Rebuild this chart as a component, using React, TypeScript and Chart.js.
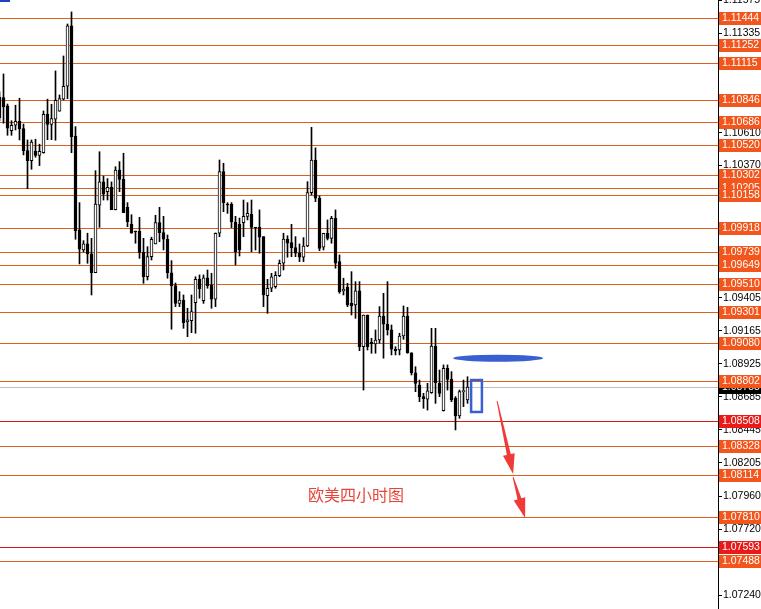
import React, { useEffect, useRef } from 'react';
import { Chart, registerables } from 'chart.js';

Chart.register(...registerables);

// EURUSD H4 candles (index -1 is the partially visible first bar)
const firstIndex = -1;
const opens = [
  1.10868, 1.10866, 1.10805, 1.10625, 1.10664, 1.10693, 1.10640, 1.10479, 1.10406, 1.10474,
  1.10445, 1.10464, 1.10744, 1.10671, 1.10708, 1.10766, 1.10854, 1.10948, 1.11388, 1.10586,
  1.09901, 1.09755, 1.09799, 1.09726, 1.09589, 1.10081, 1.10251, 1.10180, 1.10212, 1.10049,
  1.10338, 1.10270, 1.10066, 1.09944, 1.09893, 1.09891, 1.09738, 1.09560, 1.09706, 1.09799,
  1.09954, 1.09881, 1.09833, 1.09589, 1.09495, 1.09366, 1.09390, 1.09230, 1.09240, 1.09371,
  1.09541, 1.09385, 1.09551, 1.09500, 1.09396, 1.09877, 1.10326, 1.10088, 1.10088, 1.09959,
  1.09944, 1.09954, 1.10000, 1.10015, 1.09920, 1.09920, 1.09852, 1.09422, 1.09476, 1.09488,
  1.09568, 1.09658, 1.09835, 1.09808, 1.09772, 1.09731, 1.09702, 1.09784, 1.10173, 1.10411,
  1.10132, 1.09775, 1.09877, 1.09840, 1.09986, 1.09670, 1.09456, 1.09483, 1.09366, 1.09354,
  1.09458, 1.09050, 1.09281, 1.09082, 1.09070, 1.09099, 1.09274, 1.09215, 1.09172, 1.09031,
  1.09026, 1.09128, 1.09274, 1.09006, 1.08860, 1.08771, 1.08686, 1.08667, 1.08715, 1.09055,
  1.08783, 1.08583, 1.08893, 1.08812, 1.08674, 1.08545, 1.08722, 1.08662,
];
const highs = [
  1.10907, 1.11038, 1.10819, 1.10697, 1.10810, 1.10861, 1.10673, 1.10557, 1.10557, 1.10562,
  1.10526, 1.10768, 1.10854, 1.10817, 1.11060, 1.10885, 1.11169, 1.11402, 1.11490, 1.10654,
  1.10100, 1.09823, 1.09877, 1.09840, 1.10333, 1.10471, 1.10294, 1.10275, 1.10251, 1.10362,
  1.10399, 1.10460, 1.10100, 1.10012, 1.09893, 1.09993, 1.09840, 1.09779, 1.09848, 1.10008,
  1.10066, 1.10000, 1.09864, 1.09677, 1.09514, 1.09451, 1.09427, 1.09330, 1.09427, 1.09560,
  1.09573, 1.09573, 1.09609, 1.09585, 1.09879, 1.10411, 1.10387, 1.10100, 1.10100, 1.10000,
  1.09988, 1.10119, 1.10100, 1.10119, 1.09920, 1.10047, 1.09852, 1.09541, 1.09585, 1.09597,
  1.09682, 1.09877, 1.09859, 1.09942, 1.09852, 1.09799, 1.09845, 1.10253, 1.10649, 1.10499,
  1.10149, 1.09877, 1.09974, 1.10000, 1.10047, 1.09719, 1.09549, 1.09512, 1.09597, 1.09524,
  1.09524, 1.09281, 1.09281, 1.09111, 1.09172, 1.09342, 1.09439, 1.09524, 1.09208, 1.09050,
  1.09148, 1.09347, 1.09337, 1.09006, 1.08904, 1.08807, 1.08710, 1.08783, 1.09184, 1.09184,
  1.08880, 1.08917, 1.08917, 1.08868, 1.08686, 1.08734, 1.08807, 1.08831,
];
const lows = [
  1.10695, 1.10679, 1.10591, 1.10591, 1.10630, 1.10557, 1.10448, 1.10202, 1.10343, 1.10431,
  1.10370, 1.10460, 1.10559, 1.10559, 1.10555, 1.10766, 1.10848, 1.10858, 1.10464, 1.09833,
  1.09653, 1.09740, 1.09658, 1.09427, 1.09589, 1.09920, 1.10119, 1.10119, 1.10049, 1.10047,
  1.10180, 1.10027, 1.09925, 1.09877, 1.09804, 1.09694, 1.09512, 1.09536, 1.09682, 1.09799,
  1.09815, 1.09755, 1.09549, 1.09177, 1.09342, 1.09342, 1.09184, 1.09123, 1.09152, 1.09148,
  1.09403, 1.09366, 1.09476, 1.09330, 1.09342, 1.09852, 1.10034, 1.10022, 1.09918, 1.09646,
  1.09711, 1.09852, 1.09974, 1.09742, 1.09755, 1.09731, 1.09342, 1.09293, 1.09451, 1.09476,
  1.09560, 1.09609, 1.09702, 1.09706, 1.09706, 1.09670, 1.09670, 1.09779, 1.10156, 1.10107,
  1.09750, 1.09755, 1.09828, 1.09804, 1.09622, 1.09439, 1.09427, 1.09342, 1.09281, 1.09257,
  1.09021, 1.08734, 1.09026, 1.09002, 1.09002, 1.09075, 1.08966, 1.09135, 1.08990, 1.08990,
  1.08990, 1.09104, 1.09002, 1.08844, 1.08722, 1.08649, 1.08601, 1.08588, 1.08710, 1.08637,
  1.08686, 1.08581, 1.08734, 1.08649, 1.08443, 1.08528, 1.08613, 1.08637,
];
const closes = [
  1.10717, 1.10800, 1.10642, 1.10664, 1.10693, 1.10640, 1.10479, 1.10406, 1.10542, 1.10445,
  1.10474, 1.10744, 1.10671, 1.10712, 1.10846, 1.10858, 1.10948, 1.11388, 1.10581, 1.09896,
  1.09760, 1.09799, 1.09726, 1.09589, 1.10090, 1.10251, 1.10161, 1.10212, 1.10049, 1.10338,
  1.10270, 1.10027, 1.09961, 1.09877, 1.09886, 1.09738, 1.09560, 1.09706, 1.09833, 1.09954,
  1.09881, 1.09833, 1.09589, 1.09495, 1.09366, 1.09390, 1.09225, 1.09245, 1.09305, 1.09541,
  1.09473, 1.09551, 1.09495, 1.09396, 1.09877, 1.10326, 1.10100, 1.10083, 1.09959, 1.09740,
  1.09755, 1.10000, 1.10022, 1.09920, 1.09915, 1.09848, 1.09427, 1.09476, 1.09560, 1.09570,
  1.09658, 1.09835, 1.09804, 1.09772, 1.09731, 1.09702, 1.09784, 1.10173, 1.10411, 1.10132,
  1.09767, 1.09877, 1.09840, 1.09986, 1.09658, 1.09451, 1.09468, 1.09354, 1.09347, 1.09458,
  1.09050, 1.09281, 1.09050, 1.09070, 1.09099, 1.09274, 1.09215, 1.09172, 1.09031, 1.09021,
  1.09128, 1.09274, 1.09006, 1.08860, 1.08783, 1.08686, 1.08671, 1.08729, 1.09055, 1.08787,
  1.08710, 1.08893, 1.08812, 1.08662, 1.08545, 1.08722, 1.08729, 1.08755,
];

// horizontal levels
const levelPrices = [
  1.11444, 1.11252, 1.11115, 1.10846, 1.10686, 1.10520, 1.10302, 1.10205, 1.10158, 1.09918,
  1.09739, 1.09649, 1.09510, 1.09301, 1.09080, 1.08802, 1.08508, 1.08328, 1.08114, 1.07810,
  1.07593, 1.07488,
];
const redLevels = [1.08508, 1.07593];

// price axis ticks
const axisTicks = [
  1.11575, 1.11335, 1.11095, 1.10850, 1.10610, 1.10370, 1.10130, 1.09890, 1.09645, 1.09405,
  1.09165, 1.08925, 1.08685, 1.08445, 1.08205, 1.07960, 1.07720, 1.07480, 1.07240,
];
const priceMin = 1.07138;
const priceMax = 1.11577;
const indexMin = -0.875;
const indexMax = 178.625;

// annotations (bar index, price)
const blueBar = { from: 112.4, to: 134.9, price: 1.08966 };
const blueBox = { from: 116.9, to: 119.6, top: 1.08807, bottom: 1.08574 };
const arrows = [
  { x0: 123.4, p0: 1.08654, x1: 127.4, p1: 1.08122 },
  { x0: 127.4, p0: 1.08100, x1: 130.4, p1: 1.07801 },
];
const chartTitle = '欧美四小时图';
const titlePos = { x: 88.1, price: 1.07969 };

const LINE_ORANGE = '#dc5f1e';
const BOX_ORANGE = '#f2561d';
const LINE_RED = '#d41818';
const BOX_RED = '#e81a1a';

export default function App() {
  const ref = useRef<HTMLCanvasElement>(null);

  useEffect(() => {
    document.body.style.margin = '0';
    const canvas = ref.current;
    if (!canvas) return;

    const idx = opens.map((_, i) => i + firstIndex);
    const wickData = idx.map((x, i) => ({ x, y: [lows[i], highs[i]] }));
    const bodyData = idx.map((x, i) => ({
      x,
      y: [Math.min(opens[i], closes[i]), Math.max(opens[i], closes[i])],
    }));
    const bodyFill = idx.map((_, i) => (closes[i] >= opens[i] ? '#ffffff' : '#000000'));
    const lastClose = closes[closes.length - 1];

    const overlay = {
      id: 'overlay',
      beforeDatasetsDraw(chart: any) {
        const { ctx, chartArea } = chart;
        const y = chart.scales.y;
        ctx.save();
        ctx.lineWidth = 1;
        // bid line
        const by = Math.round(y.getPixelForValue(lastClose)) + 0.5;
        ctx.strokeStyle = '#c0c0c0';
        ctx.beginPath();
        ctx.moveTo(chartArea.left, by);
        ctx.lineTo(chartArea.right, by);
        ctx.stroke();
        levelPrices.forEach((p) => {
          const py = Math.round(y.getPixelForValue(p)) + 0.5;
          ctx.strokeStyle = redLevels.includes(p) ? LINE_RED : LINE_ORANGE;
          ctx.beginPath();
          ctx.moveTo(chartArea.left, py);
          ctx.lineTo(chartArea.right, py);
          ctx.stroke();
        });
        ctx.restore();
      },
      afterDatasetsDraw(chart: any) {
        const { ctx, chartArea } = chart;
        const x = chart.scales.x;
        const y = chart.scales.y;
        ctx.save();
        // small blue mark top-left
        ctx.fillStyle = '#2040c8';
        ctx.fillRect(chartArea.left, chartArea.top, 10, 2);
        // blue ellipse stroke
        ctx.fillStyle = '#3a5fd0';
        const ex0 = x.getPixelForValue(blueBar.from);
        const ex1 = x.getPixelForValue(blueBar.to);
        const ecy = y.getPixelForValue(blueBar.price);
        ctx.beginPath();
        ctx.ellipse((ex0 + ex1) / 2, ecy, (ex1 - ex0) / 2, 3.5, 0, 0, Math.PI * 2);
        ctx.fill();
        // blue rectangle
        ctx.lineWidth = 2.5;
        ctx.strokeStyle = '#3a5fd0';
        const rx0 = x.getPixelForValue(blueBox.from);
        const rx1 = x.getPixelForValue(blueBox.to);
        const ry0 = y.getPixelForValue(blueBox.top);
        const ry1 = y.getPixelForValue(blueBox.bottom);
        ctx.strokeRect(rx0, ry0, rx1 - rx0, ry1 - ry0);
        // red arrows
        ctx.fillStyle = '#f03a3a';
        arrows.forEach((a) => {
          const sx = x.getPixelForValue(a.x0);
          const sy = y.getPixelForValue(a.p0);
          const ex = x.getPixelForValue(a.x1);
          const ey = y.getPixelForValue(a.p1);
          const dx = ex - sx;
          const dy = ey - sy;
          const len = Math.hypot(dx, dy);
          const ux = dx / len;
          const uy = dy / len;
          const nx = -uy;
          const ny = ux;
          const headLen = 20;
          const headW = 6;
          const bx = ex - ux * headLen;
          const byy = ey - uy * headLen;
          ctx.beginPath();
          ctx.moveTo(sx + nx * 0.5, sy + ny * 0.5);
          ctx.lineTo(bx + nx * 2, byy + ny * 2);
          ctx.lineTo(bx + nx * headW, byy + ny * headW);
          ctx.lineTo(ex, ey);
          ctx.lineTo(bx - nx * headW, byy - ny * headW);
          ctx.lineTo(bx - nx * 2, byy - ny * 2);
          ctx.lineTo(sx - nx * 0.5, sy - ny * 0.5);
          ctx.closePath();
          ctx.fill();
        });
        // title text
        ctx.fillStyle = '#e8453a';
        ctx.font = '16px "Noto Sans CJK SC"';
        ctx.textAlign = 'center';
        ctx.textBaseline = 'middle';
        ctx.fillText(chartTitle, x.getPixelForValue(titlePos.x), y.getPixelForValue(titlePos.price));
        ctx.restore();
      },
      afterDraw(chart: any) {
        const { ctx } = chart;
        const y = chart.scales.y;
        const left = y.left + 1;
        const w = chart.width - left;
        ctx.save();
        ctx.font = '10.5px "Liberation Sans"';
        ctx.textBaseline = 'middle';
        ctx.textAlign = 'left';
        const box = (p: number, bg: string) => {
          const py = Math.round(y.getPixelForValue(p));
          ctx.fillStyle = bg;
          ctx.fillRect(left, py - 6, w, 13);
          ctx.fillStyle = '#ffffff';
          ctx.fillText(p.toFixed(5), left + 3, py + 0.5);
        };
        box(lastClose, '#000000');
        levelPrices.forEach((p) => box(p, redLevels.includes(p) ? BOX_RED : BOX_ORANGE));
        ctx.restore();
      },
    };

    const chart = new Chart(canvas, {
      type: 'bar',
      data: {
        datasets: [
          {
            label: 'wick',
            data: wickData as any,
            backgroundColor: '#000000',
            borderWidth: 0,
            barThickness: 1,
            grouped: false,
            order: 2,
          } as any,
          {
            label: 'body',
            data: bodyData as any,
            backgroundColor: bodyFill,
            borderColor: '#000000',
            borderWidth: 1,
            borderSkipped: false,
            barThickness: 3,
            minBarLength: 1,
            grouped: false,
            order: 1,
          } as any,
        ],
      },
      options: {
        animation: false,
        responsive: false,
        devicePixelRatio: 1,
        layout: { padding: 0 },
        plugins: {
          legend: { display: false },
          tooltip: { enabled: false },
        },
        scales: {
          x: {
            type: 'linear',
            min: indexMin,
            max: indexMax,
            offset: false,
            display: false,
          },
          y: {
            type: 'linear',
            position: 'right',
            min: priceMin,
            max: priceMax,
            beginAtZero: false,
            grid: {
              drawOnChartArea: false,
              drawTicks: true,
              tickLength: 4,
              color: '#000000',
            },
            border: { display: true, color: '#000000', width: 1 },
            ticks: {
              autoSkip: false,
              padding: 1,
              color: '#000000',
              font: { family: 'Liberation Sans', size: 10.5 },
              callback: (v: any) => Number(v).toFixed(5),
            },
            afterBuildTicks: (s: any) => {
              s.ticks = axisTicks.map((v) => ({ value: v }));
            },
            afterFit: (s: any) => {
              s.width = 43;
              s.paddingTop = 0;
              s.paddingBottom = 0;
            },
          } as any,
        },
      },
      plugins: [overlay],
    });

    return () => chart.destroy();
  }, []);

  return (
    <div style={{ position: 'fixed', left: 0, top: 0, width: 761, height: 609, background: '#ffffff' }}>
      <canvas ref={ref} width={761} height={609} style={{ display: 'block' }} />
    </div>
  );
}
